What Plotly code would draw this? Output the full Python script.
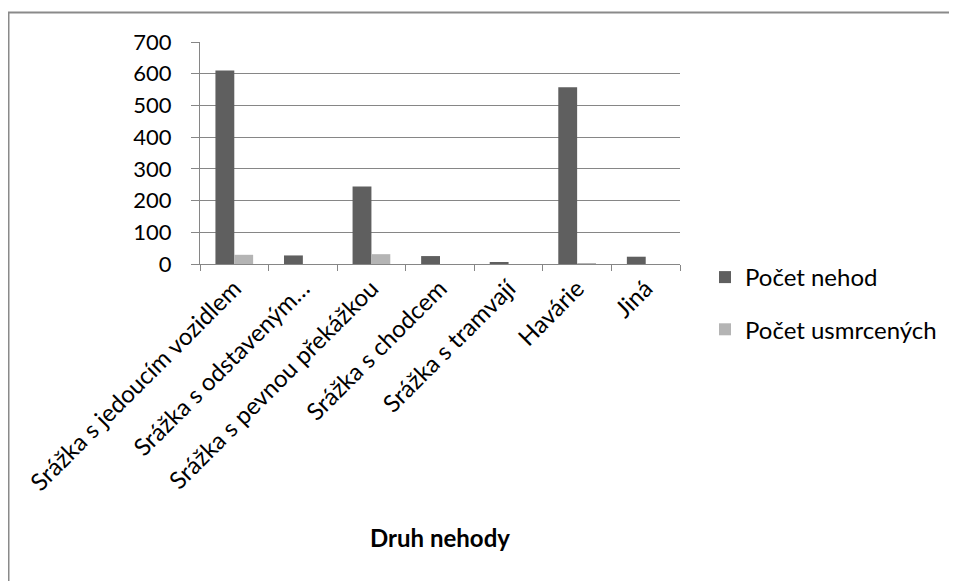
import plotly.graph_objects as go

categories = ["Srážka s jedoucím vozidlem", "Srážka s odstaveným…", "Srážka s pevnou překážkou",
              "Srážka s chodcem", "Srážka s tramvají", "Havárie", "Jiná"]
pocet_nehod = [610, 27, 244, 25, 4, 557, 23]
pocet_usmrcenych = [29, 0, 31, 0, 0, 2, 0]
y_ticks = [0, 100, 200, 300, 400, 500, 600, 700]

W, H = 957, 581
L, T = 192, 34
PW, PH = 480, 222
R, B = W - L - PW, H - T - PH

fig = go.Figure()
fig.add_trace(go.Bar(x=categories, y=pocet_nehod, name="Počet nehod",
                     marker=dict(color="#5f5f5f", line=dict(width=0)), legendgroup="a"))
fig.add_trace(go.Bar(x=categories, y=pocet_usmrcenych, name="Počet usmrcených",
                     marker=dict(color="#b4b4b4", line=dict(width=0)), legendgroup="b"))

def px(x): return (x - L) / PW
def py(y): return (H - B - y) / PH

fig.add_shape(type="rect", xref="paper", yref="paper",
              x0=px(0.5), x1=px(990), y0=py(620), y1=py(4.5),
              line=dict(color="#8a8a8a", width=2), layer="below")

fig.update_layout(
    width=W, height=H,
    margin=dict(l=L, r=R, t=T, b=B, autoexpand=False),
    paper_bgcolor="white", plot_bgcolor="white",
    font=dict(family="Lato, Open Sans, sans-serif", size=24, color="#000000"),
    barmode="group", bargap=0.45, bargroupgap=0,
    showlegend=True,
    legend=dict(x=px(697), y=py(247), xanchor="left", yanchor="top",
                traceorder="grouped", tracegroupgap=18,
                font=dict(size=24), bgcolor="rgba(0,0,0,0)"),
    xaxis=dict(
        type="category", tickangle=-45, showline=True, linecolor="#868686", linewidth=1,
        ticks="outside", tickson="boundaries", ticklen=6, tickcolor="#868686",
        showgrid=False, tickfont=dict(size=24),
        title=dict(text="<b>Druh nehody</b>", font=dict(size=24), standoff=35),
    ),
    yaxis=dict(
        range=[0, 700], tickvals=y_ticks, showline=True, linecolor="#868686", linewidth=1,
        ticks="outside", ticklen=8, tickcolor="#868686", tickfont=dict(size=22),
        ticklabelstandoff=15,
        showgrid=True, gridcolor="#868686", gridwidth=1, zeroline=False,
    ),
)

fig.write_html("out.html")
